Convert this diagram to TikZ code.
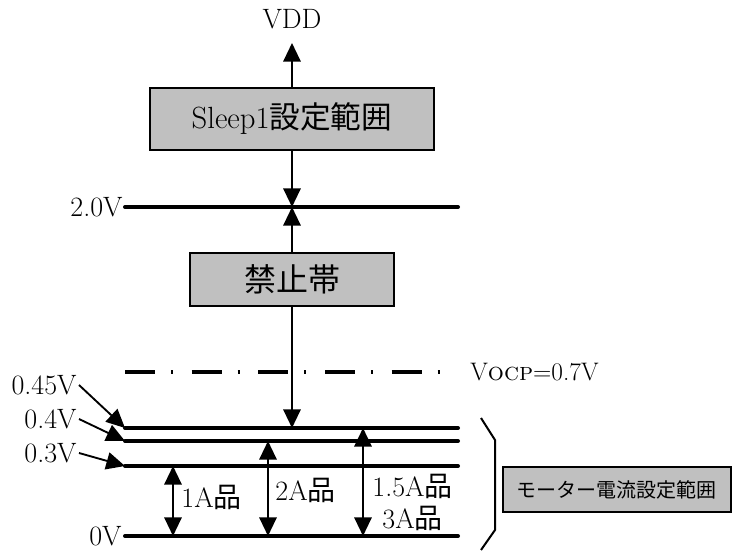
\documentclass[tikz,border=0pt]{standalone}
\usepackage{fontspec}
\newfontfamily\cjk{Noto Sans CJK JP}
\usetikzlibrary{arrows.meta}
\definecolor{boxgray}{RGB}{192,192,192}
\newcommand{\jp}[1]{{\cjk #1}}

\begin{document}
\begin{tikzpicture}[x=0.75pt, y=-0.75pt, line width=1.6pt, >={Triangle[length=14pt,width=13pt]}]
  \tikzset{
    level/.style={line width=3pt, line cap=round},
    band/.style={draw, fill=boxgray, line width=1.5pt, inner sep=0pt},
    lbl/.style={font=\fontsize{21}{21}\selectfont, inner sep=1pt},
  }
  \useasboundingbox (0,0) rectangle (732,552);
  \coordinate (vddtip) at (292,43);
  \coordinate (L20w) at (125,207);  \coordinate (L20e) at (458,207);
  \coordinate (L045w) at (125,428); \coordinate (L045e) at (458,428);
  \coordinate (L04w) at (125,441);  \coordinate (L04e) at (458,441);
  \coordinate (L03w) at (125,466);  \coordinate (L03e) at (458,466);
  \coordinate (L0w) at (125,536);   \coordinate (L0e) at (458,536);
  \coordinate (x20) at (292,207);
  \coordinate (x045) at (292,428);

  \node[band, minimum width=213pt, minimum height=46.5pt, font=\fontsize{23}{23}\selectfont]
    (sleep) at (292,119) {Sleep1\jp{設定範囲}};
  \node[band, minimum width=153pt, minimum height=39.75pt, font=\fontsize{24}{24}\selectfont]
    (kinshi) at (292,279.5) {\jp{禁止帯}};
  \node[band, minimum width=171pt, minimum height=33.75pt, font=\fontsize{15}{15}\selectfont]
    (motor) at (616.5,489.5) {\jp{モーター電流設定範囲}};

  \node[lbl, above=9pt] (vdd) at (vddtip) {VDD};
  \draw[->] (sleep.north) -- (vddtip);
  \draw[->] (sleep.south) -- (x20);
  \draw[->] (kinshi.north) -- (x20);
  \draw[->] (kinshi.south) -- (x045);

  \draw[level] (L20w) -- (L20e);
  \draw[level] (L045w) -- (L045e);
  \draw[level] (L04w) -- (L04e);
  \draw[level] (L03w) -- (L03e);
  \draw[level] (L0w) -- (L0e);

  \draw[line width=2.5pt, dash pattern=on 22.5pt off 12pt on 1.5pt off 14pt] (125,372) -- (449,372);
  \node[lbl, anchor=west, font=\fontsize{19}{19}\selectfont] (vocp) at (468,372) {V\textsc{ocp}=0.7V};

  \node[lbl, anchor=east] (v20) at (125,207) {2.0V};
  \node[lbl, anchor=east] (v0) at (124,536) {0V};
  \node[lbl, anchor=east] (v045) at (79,385) {0.45V};
  \node[lbl, anchor=east] (v04) at (79,419) {0.4V};
  \node[lbl, anchor=east] (v03) at (79,453) {0.3V};
  \draw[->, line width=1.4pt] (v045.east) -- (L045w);
  \draw[->, line width=1.4pt] (v04.east) -- (L04w);
  \draw[->, line width=1.4pt] (v03.east) -- (L03w);

  \coordinate (a1t) at (173,466); \coordinate (a1b) at (173,536);
  \coordinate (a2t) at (268,441); \coordinate (a2b) at (268,536);
  \coordinate (a3t) at (363,428); \coordinate (a3b) at (363,536);
  \draw[<->] (a1t) -- (a1b);
  \draw[<->] (a2t) -- (a2b);
  \draw[<->] (a3t) -- (a3b);
  \node[lbl, anchor=west] (c1) at (179,497) {1A\jp{品}};
  \node[lbl, anchor=west] (c2) at (273,490) {2A\jp{品}};
  \node[lbl, anchor=west] (c15) at (370,486) {1.5A\jp{品}};
  \node[lbl, anchor=west] (c3) at (380,518) {3A\jp{品}};

  \draw[line width=1.5pt] (481,418) -- (495,440) -- (495,530) -- (481,550);
\end{tikzpicture}
\end{document}
